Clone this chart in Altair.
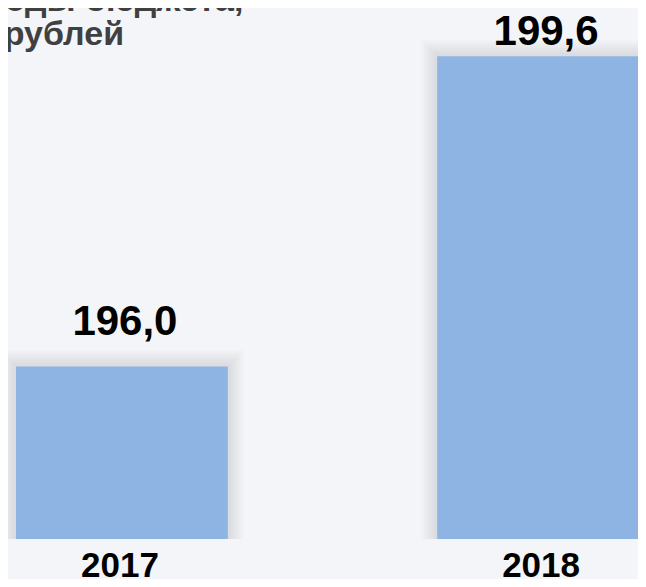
import altair as alt
import pandas as pd

YEARS = ["2017", "2018"]
VALUES = [196.0, 199.6]
LABELS = ["196,0", "199,6"]
TITLE_LINES = ["Расходы бюджета,", "млн рублей"]
BASE = 194.0
TOP = 200.16

df = pd.DataFrame({"year": YEARS, "value": VALUES, "label": LABELS})

FONT = "Liberation Sans, Arial, sans-serif"

x_enc = alt.X(
    "year:N",
    sort=YEARS,
    scale=alt.Scale(range=[0, 649], paddingInner=0.497, paddingOuter=0.019),
    axis=alt.Axis(
        title=None, domain=False, ticks=False, tickSize=0, labelAngle=0,
        labelFont=FONT, labelFontSize=35, labelFontWeight="bold", labelColor="#000000",
        labelBaseline="alphabetic", labelPadding=37, labelOffset=-2, grid=False,
    ),
)
y_scale = alt.Scale(domain=[BASE, TOP], zero=False, nice=False)
y_enc = alt.Y("value:Q", scale=y_scale, axis=None)

base = alt.Chart(df)

shadows = [
    base.mark_bar(clip=True, fillOpacity=0, stroke="#000000", strokeOpacity=0.014, strokeWidth=w)
    .encode(x=x_enc, y=y_enc, y2=alt.datum(BASE))
    for w in (32, 27, 22, 17, 12, 7)
]

bars = base.mark_bar(clip=True, color="#8EB4E3").encode(x=x_enc, y=y_enc, y2=alt.datum(BASE))

labels = base.transform_calculate(
    ly=f"min(datum.value + 0.37, {TOP - 0.43})"
).mark_text(
    font=FONT, fontSize=42, fontWeight="bold", color="#000000",
    baseline="alphabetic", align="center", dx=3,
).encode(
    x=x_enc,
    y=alt.Y("ly:Q", scale=y_scale, axis=None),
    text="label:N",
)

title = alt.Chart(pd.DataFrame({"t": [0]})).mark_text(
    font=FONT, fontSize=34, fontWeight="bold", color="#404040",
    align="left", baseline="alphabetic", lineHeight=34,
).encode(
    x=alt.value(-81), y=alt.value(3), text=alt.value(TITLE_LINES)
)

chart = alt.layer(*shadows, bars, labels, title).properties(
    width=630,
    height=531,
    autosize=alt.AutoSizeParams(type="none"),
    padding={"left": 0, "top": 0, "right": 0, "bottom": 40},
    background="#f3f5f9",
).configure_view(stroke=None)

chart.save("out.html", embed_options={"renderer": "svg", "actions": False})
